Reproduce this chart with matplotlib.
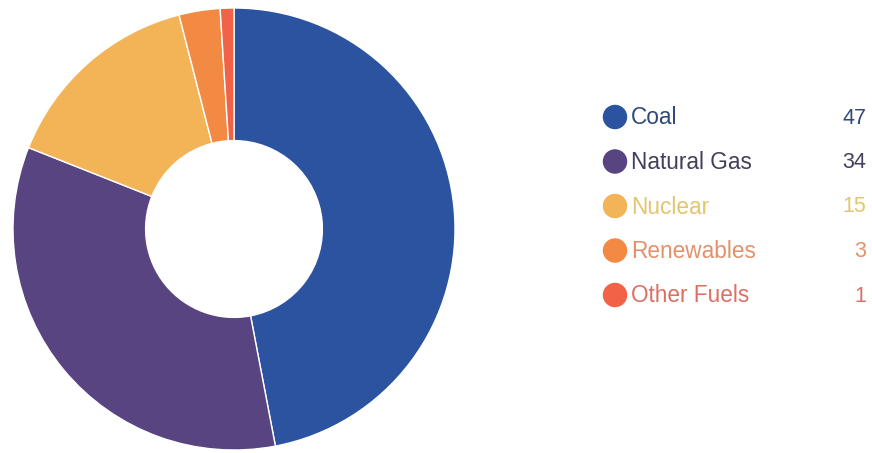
import matplotlib
matplotlib.use("Agg")
import matplotlib.pyplot as plt

# share of each fuel (%)
fuels = ["Coal", "Natural Gas", "Nuclear", "Renewables", "Other Fuels"]
shares = [47, 34, 15, 3, 1]
wedgeColors = ["#2B53A0", "#574480", "#F2B456", "#F28A44", "#F26246"]
textColors = ["#2F4A78", "#453E5A", "#E3C56E", "#E49068", "#DC6E62"]

W, H = 872, 453
fig = plt.figure(figsize=(W / 100, H / 100), dpi=100)
fig.patch.set_facecolor("white")

# donut: centre (234, 229) px, outer radius 221 px
cx, cy, r = 234, 229, 221
pieAxis = fig.add_axes([(cx - r) / W, (H - cy - r) / H, 2 * r / W, 2 * r / H])
pieAxis.pie(
    shares,
    colors=wedgeColors,
    startangle=90,
    counterclock=False,
    radius=1.0,
    wedgeprops=dict(width=0.6, edgecolor="white", linewidth=1.0),
)
pieAxis.set_xlim(-1, 1)
pieAxis.set_ylim(-1, 1)
pieAxis.set_aspect("equal")
pieAxis.axis("off")

# legend in pixel coordinates
legAxis = fig.add_axes([0, 0, 1, 1])
legAxis.set_xlim(0, W)
legAxis.set_ylim(H, 0)
legAxis.axis("off")

rowTop, rowStep = 117, 44.5
for i, (name, val) in enumerate(zip(fuels, shares)):
    y = rowTop + i * rowStep
    legAxis.scatter([615], [y], s=310, color=wedgeColors[i], edgecolors="none")
    legAxis.text(631, y + 1, name, color=textColors[i], fontsize=16.3,
                 family="Liberation Sans", va="center", ha="left")
    legAxis.text(866, y + 1, str(val), color=textColors[i], fontsize=15.5,
                 family="Liberation Sans", va="center", ha="right")

fig.savefig("out.png", dpi=100)
